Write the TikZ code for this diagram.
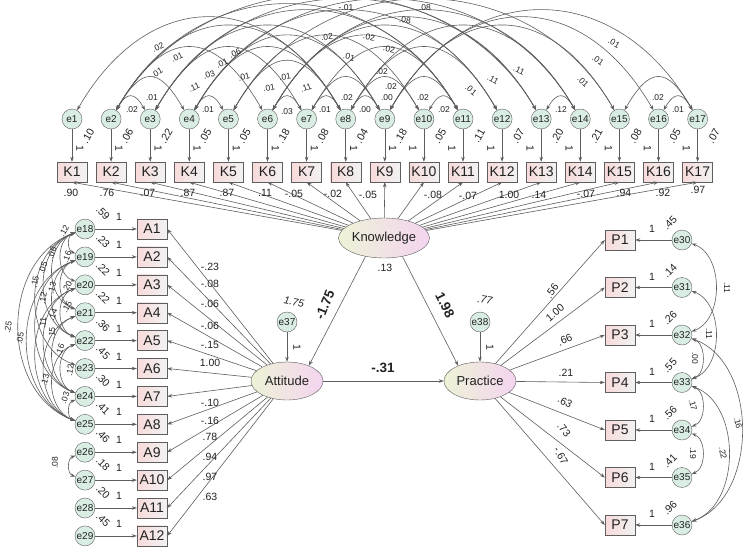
\documentclass[tikz,border=0pt]{standalone}
\usepackage{fontspec}
\setmainfont{Liberation Sans}
\usetikzlibrary{arrows.meta,shapes.geometric,calc}
\definecolor{ln}{HTML}{5E5E5E}
\definecolor{boxl}{HTML}{F8DADA}
\definecolor{boxr}{HTML}{F2F2F2}
\definecolor{efill}{HTML}{D9EDE3}
\definecolor{ell}{HTML}{EDF2D6}
\definecolor{elr}{HTML}{F4D4F0}
\definecolor{txt}{HTML}{222222}
\begin{document}
\begin{tikzpicture}[x=1pt,y=-1pt,
  obs/.style={draw=ln, left color=boxl, right color=boxr, minimum width=30pt, minimum height=20pt, inner sep=0pt, font=\fontsize{14}{14}\selectfont, text=txt},
  err/.style={circle, draw=ln, fill=efill, minimum size=20pt, inner sep=0pt, font=\fontsize{10}{10}\selectfont, text=txt},
  lat/.style={ellipse, draw=ln, left color=ell, right color=elr, minimum width=72pt, minimum height=38pt, inner sep=0pt, font=\fontsize{13}{13}\selectfont, text=txt},
  reg/.style={draw=ln, line width=0.6pt, -{Stealth[length=5pt,width=3.5pt]}},
  cov/.style={draw=ln, line width=0.6pt, {Stealth[length=5pt,width=3.5pt]}-{Stealth[length=5pt,width=3.5pt]}},
  lab/.style={font=\fontsize{10.5}{10.5}\selectfont, inner sep=0pt, text=txt},
  sml/.style={font=\fontsize{8.5}{8.5}\selectfont, inner sep=0pt, text=txt},
  bigl/.style={font=\bfseries\fontsize{13.5}{13.5}\selectfont, inner sep=0pt, text=txt},
]
\useasboundingbox (0,0) rectangle (752,552);
\fill[white] (0,0) rectangle (752,552);

% ---- Knowledge block ----
\foreach \i in {1,...,17}{
  \pgfmathsetmacro\xx{72+39.1*(\i-1)}
  \node[err] (e\i) at (\xx,119) {e\i};
  \node[obs] (K\i) at (\xx,172) {K\i};
  \draw[reg] (e\i) -- (K\i);
}
\node[lat, minimum width=74pt, minimum height=40pt] (know) at (384,238) {Knowledge};
\node[lat] (att) at (287,381) {Attitude};
\node[lat] (prac) at (480,381) {Practice};
\node[err] (e37) at (287,322) {e37};
\node[err] (e38) at (480,322) {e38};

\foreach \i in {1,...,17}{\draw[reg] (know) -- (K\i.south);}

% ---- Attitude block ----
\foreach \i in {1,...,12}{
  \pgfmathsetmacro\yy{229+27.9*(\i-1)}
  \pgfmathtruncatemacro\en{\i+17}
  \node[err] (e\en) at (85,\yy) {e\en};
  \node[obs] (A\i) at (152,\yy) {A\i};
  \draw[reg] (e\en) -- (A\i);
  \draw[reg] (att) -- (A\i.east);
}

% ---- Practice block ----
\foreach \i in {1,...,7}{
  \pgfmathsetmacro\yy{240+47.5*(\i-1)}
  \pgfmathtruncatemacro\en{\i+29}
  \node[obs] (P\i) at (620,\yy) {P\i};
  \node[err] (e\en) at (682,\yy) {e\en};
  \draw[reg] (e\en) -- (P\i);
  \draw[reg] (prac) -- (P\i.west);
}

% ---- structural paths ----
\draw[reg] (know.225) -- (att.35);
\draw[reg] (know.315) -- (prac.145);
\draw[reg] (att) -- (prac);
\draw[reg] (e37) -- (att);
\draw[reg] (e38) -- (prac);

% ---- top covariances ----
\foreach \i/\j in {2/3,2/4,4/5,6/7,7/8,7/9,8/9,8/10,9/11,10/11,13/14,15/17,16/17,
  1/8,2/8,2/6,2/11,3/11,3/9,3/7,4/9,4/12,5/8,4/8,2/13,4/14,5/10,6/12,6/11,7/11,3/13,5/15,6/14,8/12,6/13,8/14,9/15,9/16,9/17}{
  \pgfmathsetmacro\s{\j-\i}
  \pgfmathsetmacro\L{(148*(1-exp(-\s/6))-8.7)/(0.254*(39.1*\s-10))}
  \draw[cov] (e\i) to[out=60,in=120,looseness=\L] (e\j);
}
% ---- left covariances ----
\foreach \i/\j in {18/19,18/20,18/21,18/22,18/23,18/25,19/21,19/22,19/24,19/25,20/22,20/24,20/25,21/24,22/24,22/25,21/25,24/25,26/27}{
  \draw[cov] (e\i) to[out=200,in=160,looseness=1.1] (e\j);
}
% ---- right covariances ----
\foreach \i/\j in {30/32,31/33,32/33,33/34,34/35,33/36,32/36}{
  \draw[cov] (e\i) to[out=-20,in=20,looseness=1.0] (e\j);
}

% ---- top covariance labels ----
\foreach \px/\py/\r/\t [count=\n] in {
  346/8/0/-.01, 425/8/0/.08, 405/20/-5/.08, 158/47/25/.02, 177/57/25/.01, 157/73/30/.01,
  235/53/25/.06, 222/63/25/.01, 209/75/20/.03, 194/87/25/.11, 244/77/15/.01, 285/77/10/.01,
  269/88/10/.01, 306/88/20/.11, 327/37/5/.02, 369/37/-10/.02, 349/57/-15/.01, 389/49/-10/.02,
  382/72/0/.02, 391/87/0/.02, 471/90/-40/.01, 493/80/-30/.11, 519/70/-25/.11, 583/82/-45/.01,
  598/60/-35/.01, 614/43/-30/.01,
  132/110/0/.02, 152/98/0/.01, 208/110/0/.01, 287/112/0/.03, 325/110/0/.01, 365/110/0/.00,
  347/98/0/.02, 387/98/0/.00, 423/98/0/.02, 444/110/0/.02, 561/110/0/.12, 658/98/0/.02, 678/110/0/.01}{
  \node[sml, rotate=\r] (tc\n) at (\px,\py) {\t};
}
% ---- top variances and fixed 1s ----
\foreach \v [count=\i] in {.10,.06,.22,.05,.05,.18,.08,.04,.18,.05,.11,.07,.20,.21,.08,.05,.07}{
  \pgfmathsetmacro\xx{72+39.1*(\i-1)}
  \node[lab, rotate=60] (tv\i) at (\xx+16,136) {\v};
}
\foreach \i in {1,...,9}{
  \pgfmathsetmacro\xx{72+39.1*(\i-1)}
  \node[lab, rotate=-90] (to\i) at (\xx+8,148) {1};
}
\foreach \i in {10,...,17}{
  \pgfmathsetmacro\xx{72+39.1*(\i-1)}
  \node[lab, rotate=-90] (to\i) at (\xx-11,148) {1};
}
% ---- K loadings ----
\foreach \px/\py/\t [count=\n] in {71/193/.90, 107/193/.76, 148/193/.07, 188/193/.87, 227/193/.87, 265/193/.11,
  294/194/-.05, 333/194/-.02, 368/195/-.05, 433/195/-.08, 468/196/-.07, 509/195/1.00, 539/195/.14,
  586/194/-.07, 624/193/.94, 663/193/.92, 698/190/.97}{
  \node[lab] (kl\n) at (\px,\py) {\t};
}
\node[lab] (kvar) at (385,268) {.13};

% ---- A loadings ----
\foreach \py/\t [count=\n] in {267/-.23, 284/-.08, 304/-.06, 326/-.06, 345/-.15, 363/1.00, 403/-.10, 421/-.16, 437/.78, 457/.94, 477/.97, 497/.63}{
  \node[lab] (al\n) at (210,\py) {\t};
}
% ---- A error variances and 1s ----
\foreach \v [count=\i] in {.59,.23,.22,.22,.36,.45,.30,.41,.46,.18,.20,.45}{
  \pgfmathsetmacro\yy{229+27.9*(\i-1)}
  \node[lab, rotate=-45] (av\i) at (103,\yy-16) {\v};
  \node[lab] (ao\i) at (119,\yy-12) {1};
}
% ---- left covariance labels ----
\foreach \px/\py/\r/\t [count=\n] in {64/231/60/.12, 67/257/70/.16, 52/253/70/.08, 43/268/70/.05, 35/282/80/.15,
  52/288/75/.13, 67/287/60/.20, 43/298/80/.12, 53/315/70/.14, 67/307/60/.15, 43/323/85/.11, 8/327/80/.25,
  52/333/85/.15, 20/338/80/.05, 60/350/70/.16, 70/370/80/.12, 45/380/75/.13, 65/398/70/.03, 55/463/90/.08}{
  \node[sml, rotate=\r] (lc\n) at (\px,\py) {\t};
}

% ---- P loadings ----
\foreach \px/\py/\r/\t [count=\n] in {552/291/55/.56, 555/313/40/1.00, 565/340/22/.66, 566/373/0/.21,
  565/402/-28/.63, 564/430/-50/.73, 561/456/-60/-.67}{
  \node[lab, rotate=\r] (pl\n) at (\px,\py) {\t};
}
\foreach \v [count=\i] in {.45,.14,.26,.55,.56,.41,.96}{
  \pgfmathsetmacro\yy{240+47.5*(\i-1)}
  \node[lab, rotate=45] (pv\i) at (670,\yy-17) {\v};
  \node[lab] (po\i) at (652,\yy-11) {1};
}
% ---- right covariance labels ----
\foreach \px/\py/\r/\t [count=\n] in {727/288/-90/.11, 709/334/-90/.11, 695/358/-90/.00, 693/405/-75/.17,
  693/453/-90/.19, 723/453/-80/.22, 738/423/-75/.16}{
  \node[sml, rotate=\r] (rc\n) at (\px,\py) {\t};
}

% ---- structural labels ----
\node[lab, rotate=-10] (v37) at (294,302) {\itshape 1.75};
\node[lab, rotate=-10] (v38) at (485,300) {\itshape .77};
\node[lab, rotate=-90] (o37) at (297,347) {1};
\node[lab, rotate=-90] (o38) at (490,347) {1};
\node[bigl, rotate=68] (b1) at (325,305) {-1.75};
\node[bigl, rotate=-63] (b2) at (445,305) {1.98};
\node[bigl] (b3) at (383,368) {-.31};
\end{tikzpicture}
\end{document}
